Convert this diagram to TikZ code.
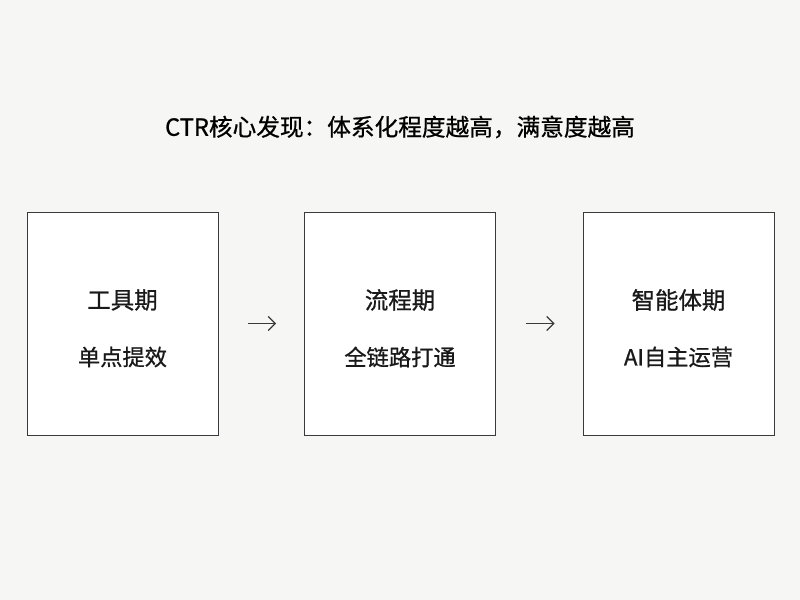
\documentclass[tikz,border=0pt]{standalone}
\usepackage{fontspec}
\newfontfamily\cjk[FakeBold=0.8]{Noto Sans CJK SC}
\usetikzlibrary{arrows.meta}
\definecolor{bg}{HTML}{F6F6F5}
\definecolor{ink}{HTML}{3A3A3A}
\tikzset{
 stage/.style={draw=ink, line width=0.8pt, minimum width=5.73cm, minimum height=6.69cm, fill=white, inner sep=0pt},
 ttl/.style={font=\cjk\fontsize{20}{22}\selectfont, text=black!90},
 sub/.style={font=\cjk\fontsize{19}{21}\selectfont, text=black!90},
 flow/.style={-{Straight Barb[length=6pt,width=12pt]}, draw=ink, line width=1pt, shorten <=0.9cm, shorten >=0.84cm}
}
\begin{document}
\begin{tikzpicture}[x=0.03cm,y=-0.03cm]
\fill[bg] (0,0) rectangle (800,600);
\useasboundingbox (0,0) rectangle (800,600);
\node[font=\cjk\fontsize{20.2}{22}\selectfont] (title) at (400,127) {CTR核心发现：体系化程度越高，满意度越高};
\node[stage] (b1) at (122.5,323.5) {};
\node[stage] (b2) at (400,323.5) {};
\node[stage] (b3) at (678.5,323.5) {};
\node[ttl] (t1) at (122.5,300) {工具期};
\node[sub] (s1) at (122.5,357) {单点提效};
\node[ttl] (t2) at (400,300) {流程期};
\node[sub] (s2) at (400,357) {全链路打通};
\node[ttl] (t3) at (678.5,300) {智能体期};
\node[sub] (s3) at (678.5,357) {AI自主运营};
\draw[flow] (b1.east) -- (b2.west);
\draw[flow] (b2.east) -- (b3.west);
\end{tikzpicture}
\end{document}
